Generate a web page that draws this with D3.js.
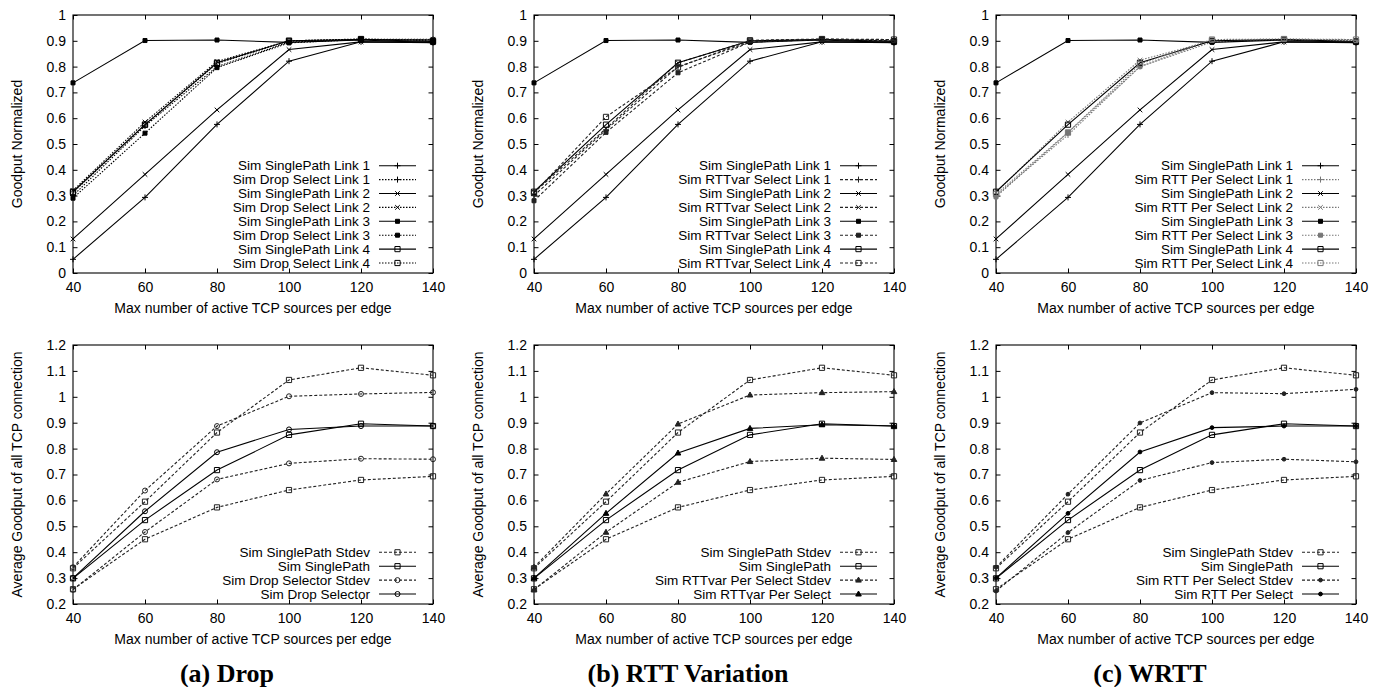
<!DOCTYPE html>
<html>
<head>
<meta charset="utf-8">
<script src="https://cdn.jsdelivr.net/npm/d3@7"></script>
<style>
  body { margin: 0; background: #fff; }
  text { font-family: "Liberation Sans", Arial, sans-serif; font-size: 14px; fill: #000; }
  .legend { font-size: 13.5px; }
  .caption { font-family: "Liberation Serif", "Times New Roman", serif; font-weight: bold; font-size: 26px; }
</style>
</head>
<body>
<svg id="chart" width="1382" height="687"></svg>
<script>
// x values shared by every panel
var xValues = [40, 60, 80, 100, 120, 140];
var topYTicks = [0, 0.1, 0.2, 0.3, 0.4, 0.5, 0.6, 0.7, 0.8, 0.9, 1];
var bottomYTicks = [0.2, 0.3, 0.4, 0.5, 0.6, 0.7, 0.8, 0.9, 1, 1.1, 1.2];

// top row: goodput per link
var singleLink1 = [0.053, 0.293, 0.576, 0.821, 0.896, 0.893];
var singleLink2 = [0.132, 0.382, 0.632, 0.866, 0.896, 0.895];
var singleLink3 = [0.737, 0.901, 0.903, 0.894, 0.903, 0.893];
var singleLink4 = [0.315, 0.575, 0.815, 0.900, 0.905, 0.897];

var dropLink1 = [0.300, 0.570, 0.800, 0.895, 0.905, 0.905];
var dropLink2 = [0.320, 0.585, 0.820, 0.900, 0.906, 0.906];
var dropLink3 = [0.290, 0.542, 0.796, 0.892, 0.905, 0.902];
var dropLink4 = [0.312, 0.575, 0.812, 0.900, 0.907, 0.900];

var rttvarLink1 = [0.300, 0.555, 0.800, 0.895, 0.905, 0.905];
var rttvarLink2 = [0.312, 0.560, 0.815, 0.900, 0.906, 0.902];
var rttvarLink3 = [0.280, 0.545, 0.776, 0.895, 0.905, 0.900];
var rttvarLink4 = [0.310, 0.605, 0.797, 0.902, 0.907, 0.905];

var rttPerLink1 = [0.300, 0.535, 0.800, 0.895, 0.905, 0.905];
var rttPerLink2 = [0.312, 0.585, 0.825, 0.900, 0.906, 0.902];
var rttPerLink3 = [0.295, 0.545, 0.800, 0.902, 0.905, 0.900];
var rttPerLink4 = [0.305, 0.545, 0.810, 0.905, 0.907, 0.905];

// bottom row: average goodput and mean +/- stdev
var singleMean    = [0.299, 0.524, 0.717, 0.853, 0.896, 0.887];
var singleStdevHi = [0.338, 0.595, 0.862, 1.065, 1.112, 1.083];
var singleStdevLo = [0.257, 0.450, 0.573, 0.640, 0.679, 0.693];

var dropMean    = [0.300, 0.558, 0.786, 0.874, 0.887, 0.887];
var dropStdevHi = [0.342, 0.638, 0.887, 1.002, 1.011, 1.017];
var dropStdevLo = [0.255, 0.478, 0.681, 0.743, 0.761, 0.759];

var rttvarMean    = [0.300, 0.550, 0.783, 0.878, 0.892, 0.887];
var rttvarStdevHi = [0.342, 0.625, 0.895, 1.007, 1.016, 1.020];
var rttvarStdevLo = [0.255, 0.477, 0.670, 0.750, 0.763, 0.758];

var rttPerMean    = [0.300, 0.550, 0.787, 0.881, 0.887, 0.887];
var rttPerStdevHi = [0.342, 0.624, 0.899, 1.016, 1.012, 1.029];
var rttPerStdevLo = [0.250, 0.476, 0.677, 0.746, 0.759, 0.749];

var captions = ["(a) Drop", "(b) RTT Variation", "(c) WRTT"];
var selectNames = ["Drop Select", "RTTvar Select", "RTT Per Select"];
var selectorNames = ["Drop Selector", "RTTvar Per Select", "RTT Per Select"];
var xTitle = "Max number of active TCP sources per edge";
var topYTitle = "Goodput Normalized";
var bottomYTitle = "Average Goodput of all TCP connection";

// layout
var panelLefts = [73, 534, 996];
var plotW = 360;
var topRow = {top: 15, bottom: 273};
var bottomRow = {top: 345, bottom: 604};

var svg = d3.select("#chart");

function markerPath(type) {
  if (type == "plus") return "M-3,0H3M0,-3V3";
  if (type == "cross") return "M-2.3,-2.3L2.3,2.3M-2.3,2.3L2.3,-2.3";
  if (type == "fsquare") return "M-2,-2H2V2H-2Z";
  if (type == "osquare") return "M-2.6,-2.6H2.6V2.6H-2.6Z";
  if (type == "ocircle") return "M2.5,0A2.5,2.5 0 1,1 -2.5,0A2.5,2.5 0 1,1 2.5,0Z";
  if (type == "fcircle") return "M1.9,0A1.9,1.9 0 1,1 -1.9,0A1.9,1.9 0 1,1 1.9,0Z";
  if (type == "triangle") return "M0,-3L2.8,2H-2.8Z";
}
function markerFill(type, color) {
  return (type == "fsquare" || type == "fcircle" || type == "triangle") ? color : "none";
}

function drawPanel(left, row, yDomain, yTicks, yTitle, entries, caption) {
  var g = svg.append("g");
  var x = d3.scaleLinear().domain([40, 140]).range([left, left + plotW]);
  var y = d3.scaleLinear().domain(yDomain).range([row.bottom, row.top]);
  var fmt = function (d) { return String(+d.toFixed(1)); };

  g.append("g").attr("transform", "translate(" + left + ",0)")
    .call(d3.axisLeft(y).tickValues(yTicks).tickFormat(fmt).tickSize(-4.5).tickPadding(7));
  g.append("g").attr("transform", "translate(" + (left + plotW) + ",0)")
    .call(d3.axisRight(y).tickValues(yTicks).tickFormat("").tickSize(-4.5));
  g.append("g").attr("transform", "translate(0," + row.bottom + ")")
    .call(d3.axisBottom(x).tickValues(xValues).tickSize(-4.5).tickPadding(9));
  g.append("g").attr("transform", "translate(0," + row.top + ")")
    .call(d3.axisTop(x).tickValues(xValues).tickFormat("").tickSize(-4.5));
  g.selectAll(".domain").remove();
  g.selectAll(".tick line").attr("stroke", "#000");
  g.selectAll(".tick text").style("font-size", "14px").attr("font-family", null);

  g.append("rect").attr("x", left).attr("y", row.top)
    .attr("width", plotW).attr("height", row.bottom - row.top)
    .attr("fill", "none").attr("stroke", "#000").attr("stroke-width", 1.1);

  g.append("text").attr("x", left + plotW / 2).attr("y", row.bottom + 40)
    .attr("text-anchor", "middle").text(xTitle);
  g.append("text")
    .attr("transform", "translate(" + (left - 56) + "," + ((row.top + row.bottom) / 2) + ") rotate(-90)")
    .attr("dy", "0.35em").attr("text-anchor", "middle").text(yTitle);

  var line = d3.line().x(function (d, i) { return x(xValues[i]); }).y(function (d) { return y(d); });

  entries.forEach(function (e) {
    e.lines.forEach(function (vals) {
      g.append("path").datum(vals).attr("d", line)
        .attr("fill", "none").attr("stroke", e.color).attr("stroke-width", 1.1)
        .attr("stroke-dasharray", e.dash);
      g.selectAll(null).data(vals).enter().append("path")
        .attr("transform", function (d, i) { return "translate(" + x(xValues[i]) + "," + y(d) + ")"; })
        .attr("d", markerPath(e.marker))
        .attr("fill", markerFill(e.marker, e.color))
        .attr("stroke", e.color).attr("stroke-width", 1);
    });
  });

  // legend, bottom-right inside the frame
  var n = entries.length;
  entries.forEach(function (e, i) {
    var ly = row.bottom - 10 - (n - 1 - i) * 13.9;
    g.append("text").attr("class", "legend").attr("x", left + 297).attr("y", ly).attr("dy", "0.35em")
      .attr("text-anchor", "end").text(e.label);
    g.append("line").attr("x1", left + 306).attr("x2", left + 343)
      .attr("y1", ly).attr("y2", ly)
      .attr("stroke", e.color).attr("stroke-width", 1.1).attr("stroke-dasharray", e.dash);
    g.append("path").attr("transform", "translate(" + (left + 324.5) + "," + ly + ")")
      .attr("d", markerPath(e.marker)).attr("fill", markerFill(e.marker, e.color))
      .attr("stroke", e.color).attr("stroke-width", 1);
  });

  if (caption) {
    svg.append("text").attr("class", "caption")
      .attr("x", left + 154).attr("y", 682).attr("text-anchor", "middle").text(caption);
  }
}

var selectLinks = [
  [dropLink1, dropLink2, dropLink3, dropLink4],
  [rttvarLink1, rttvarLink2, rttvarLink3, rttvarLink4],
  [rttPerLink1, rttPerLink2, rttPerLink3, rttPerLink4]
];
var singleLinks = [singleLink1, singleLink2, singleLink3, singleLink4];
var selectorData = [
  [dropMean, dropStdevHi, dropStdevLo],
  [rttvarMean, rttvarStdevHi, rttvarStdevLo],
  [rttPerMean, rttPerStdevHi, rttPerStdevLo]
];
var linkMarkers = ["plus", "cross", "fsquare", "osquare"];
var selectorMarkers = ["ocircle", "triangle", "fcircle"];
var selectDash = ["1.5,1.5", "3,2", "1.5,1.5"];
var selectColor = ["#000", "#222", "#777"];

panelLefts.forEach(function (left, p) {
  var topEntries = [];
  for (var k = 0; k < 4; k++) {
    topEntries.push({label: "Sim SinglePath Link " + (k + 1), lines: [singleLinks[k]],
      marker: linkMarkers[k], color: "#000", dash: null});
    topEntries.push({label: "Sim " + selectNames[p] + " Link " + (k + 1), lines: [selectLinks[p][k]],
      marker: linkMarkers[k], color: selectColor[p], dash: selectDash[p]});
  }
  drawPanel(left, topRow, [0, 1], topYTicks, topYTitle, topEntries, null);

  var sel = selectorData[p];
  var bottomEntries = [
    {label: "Sim SinglePath Stdev", lines: [singleStdevHi, singleStdevLo], marker: "osquare", color: "#222", dash: "3,2"},
    {label: "Sim SinglePath", lines: [singleMean], marker: "osquare", color: "#000", dash: null},
    {label: "Sim " + selectorNames[p] + " Stdev", lines: [sel[1], sel[2]], marker: selectorMarkers[p], color: "#222", dash: "3,2"},
    {label: "Sim " + selectorNames[p], lines: [sel[0]], marker: selectorMarkers[p], color: "#000", dash: null}
  ];
  drawPanel(left, bottomRow, [0.2, 1.2], bottomYTicks, bottomYTitle, bottomEntries, captions[p]);
});
</script>
</body>
</html>
